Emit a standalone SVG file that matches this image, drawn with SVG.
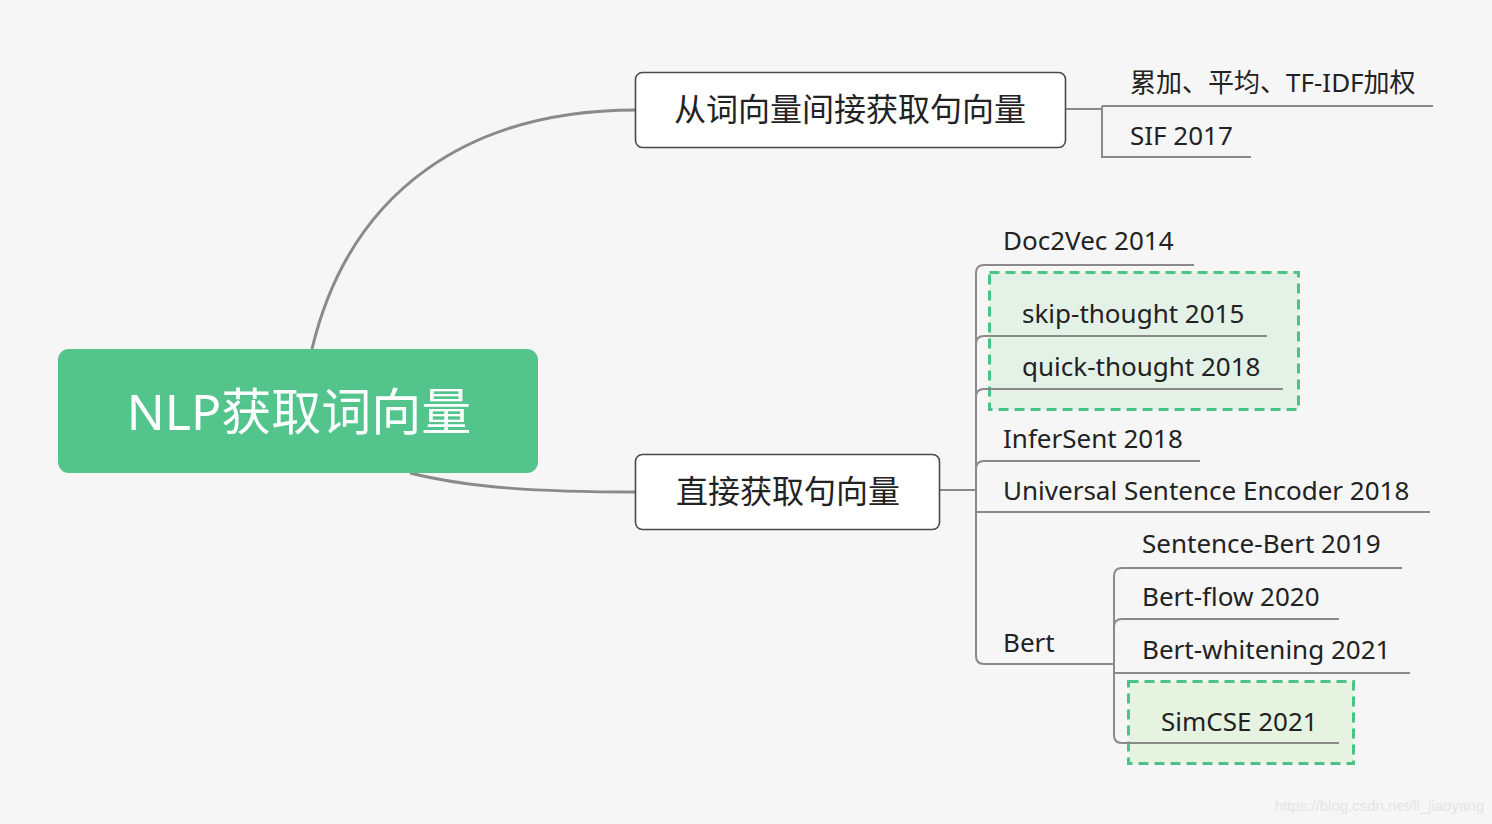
<svg xmlns="http://www.w3.org/2000/svg" width="1492" height="824" viewBox="0 0 1492 824">
<style>
.t{font-family:"Noto Sans","Noto Sans CJK SC",sans-serif;fill:#222;}
.c{font-size:26px;}
.m{font-size:32px;text-anchor:middle;}
.ln{fill:none;stroke:#8a8a8a;stroke-width:2;}
.cv{fill:none;stroke:#8a8a8a;stroke-width:3;}
.box{fill:#fff;stroke:#4a4a4a;stroke-width:1.6;}
.dash{stroke:#4cc386;stroke-width:3;stroke-dasharray:10 6;}
</style>
<rect x="0" y="0" width="1492" height="824" fill="#f6f6f6"/>
<g id="hl-thought"><rect class="dash" x="989.5" y="272.5" width="309" height="137" fill="#e3f1e7"/></g>
<g id="hl-simcse"><rect class="dash" x="1128.5" y="681.5" width="225" height="82" fill="#e6f3e0"/></g>
<g id="connectors">
<path class="cv" d="M312,349 C350,190 470,110 636,110"/>
<path class="cv" d="M410,473 C470,488 540,492 636,492"/>
<path class="ln" d="M1066,109 H1102 M1102,106 V157 H1251 M1102,106 H1433"/>
<path class="ln" d="M940,490 H976"/>
<path class="ln" d="M1194,265 H984 Q976,265 976,273 V656 Q976,664 984,664 H1114"/>
<path class="ln" d="M976,344 Q976,336 984,336 H1267"/>
<path class="ln" d="M976,397 Q976,389 984,389 H1283"/>
<path class="ln" d="M976,469 Q976,461 984,461 H1200"/>
<path class="ln" d="M976,512 H1430"/>
<path class="ln" d="M1402,568 H1122 Q1114,568 1114,576 V735 Q1114,743 1122,743 H1339"/>
<path class="ln" d="M1114,627 Q1114,619 1122,619 H1339"/>
<path class="ln" d="M1114,673 H1410"/>
</g>
<g id="root">
<rect x="58" y="349" width="480" height="124" rx="11" fill="#52c48c"/>
<text x="299" y="430" font-family="Noto Sans,Noto Sans CJK SC,sans-serif" font-size="50" fill="#fff" text-anchor="middle">NLP获取词向量</text>
</g>
<g id="n-indirect">
<rect class="box" x="635.5" y="72.5" width="430" height="75" rx="7"/>
<text class="t m" x="850" y="121">从词向量间接获取句向量</text>
</g>
<g id="n-direct">
<rect class="box" x="635.5" y="454.5" width="304" height="75" rx="7"/>
<text class="t m" x="788" y="503">直接获取句向量</text>
</g>
<g id="n-sum"><text class="t c" x="1130" y="92">累加、平均、TF-IDF加权</text></g>
<g id="n-sif"><text class="t c" x="1130" y="145">SIF 2017</text></g>
<g id="n-doc2vec"><text class="t c" x="1003" y="250">Doc2Vec 2014</text></g>
<g id="n-skip"><text class="t c" x="1022" y="323">skip-thought 2015</text></g>
<g id="n-quick"><text class="t c" x="1022" y="376">quick-thought 2018</text></g>
<g id="n-infersent"><text class="t c" x="1003" y="448">InferSent 2018</text></g>
<g id="n-use"><text class="t c" x="1003" y="500">Universal Sentence Encoder 2018</text></g>
<g id="n-bert"><text class="t c" x="1003" y="652">Bert</text></g>
<g id="n-sbert"><text class="t c" x="1142" y="553">Sentence-Bert 2019</text></g>
<g id="n-bertflow"><text class="t c" x="1142" y="606">Bert-flow 2020</text></g>
<g id="n-bertwhite"><text class="t c" x="1142" y="659">Bert-whitening 2021</text></g>
<g id="n-simcse"><text class="t c" x="1161" y="731">SimCSE 2021</text></g>
<text x="1484" y="811" font-family="Liberation Sans,sans-serif" font-size="15" fill="#e4e4e4" text-anchor="end">https://blog.csdn.net/li_jiaoyang</text>
</svg>
